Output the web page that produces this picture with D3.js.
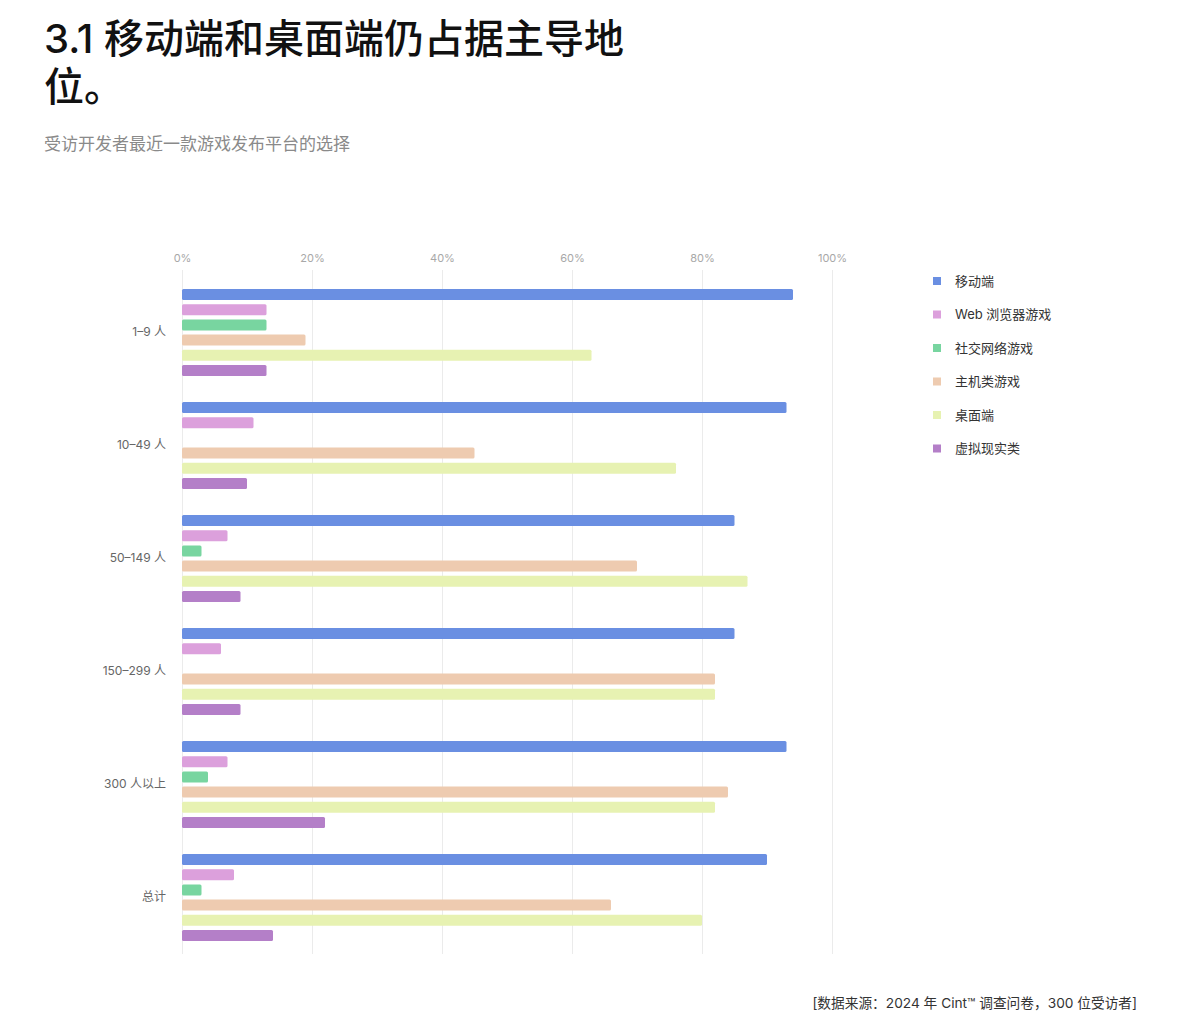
<!DOCTYPE html>
<html>
<head>
<meta charset="utf-8">
<script src="https://cdn.jsdelivr.net/npm/d3@7"></script>
<style>
  body { margin: 0; background: #fff; }
  svg text { font-family: "Inter", "Noto Sans CJK SC", sans-serif; }
</style>
</head>
<body>
<svg id="chart"></svg>
<script>
// Company size groups (y categories)
const groups = ['1–9 人', '10–49 人', '50–149 人', '150–299 人', '300 人以上', '总计'];

// Platform series, in legend order
const series = ['移动端', 'Web 浏览器游戏', '社交网络游戏', '主机类游戏', '桌面端', '虚拟现实类'];
const colors = ['#6a8fe2', '#dca0dc', '#78d5a0', '#eecbb0', '#e7f2b2', '#b47fc8'];

// Percent values per series, one entry per group
const mobile  = [94, 93, 85, 85, 93, 90];
const web     = [13, 11, 7, 6, 7, 8];
const social  = [13, 0, 3, 0, 4, 3];
const console_ = [19, 45, 70, 82, 84, 66];
const desktop = [63, 76, 87, 82, 82, 80];
const vr      = [13, 10, 9, 9, 22, 14];

const xTicks = [0, 20, 40, 60, 80, 100];

const seriesValues = [mobile, web, social, console_, desktop, vr];

// Flatten into rows for binding
const rows = [];
groups.forEach((g, gi) => {
    series.forEach((s, si) => {
        rows.push({group: g, series: s, value: seriesValues[si][gi], color: colors[si]});
    });
});

const width = 1200, height = 1031;
const margin = {top: 276, left: 182, right: 368, bottom: 77};
const innerW = width - margin.left - margin.right;
const innerH = height - margin.top - margin.bottom;

const svg = d3.select('#chart')
    .attr('width', width)
    .attr('height', height);

// Title (wrapped by hand, as in the original)
const title = svg.append('text')
    .attr('x', 44)
    .attr('y', 53)
    .style('font-size', '40px')
    .style('font-weight', 500)
    .attr('fill', '#111');
title.append('tspan').attr('x', 44).attr('dy', 0).text('3.1 移动端和桌面端仍占据主导地');
title.append('tspan').attr('x', 44).attr('dy', 48).text('位。');

svg.append('text')
    .attr('x', 44)
    .attr('y', 150)
    .style('font-size', '17px')
    .attr('fill', '#8a8a8a')
    .text('受访开发者最近一款游戏发布平台的选择');

const chart = svg.append('g')
    .attr('transform', `translate(${margin.left},${margin.top})`);

// Scales
const xScale = d3.scaleLinear()
    .domain([0, 100])
    .range([0, innerW]);

const yScale = d3.scaleBand()
    .domain(groups)
    .range([0, innerH])
    .paddingInner(0.2)
    .paddingOuter(0.1);

const ySub = d3.scaleBand()
    .domain(series)
    .range([0, yScale.bandwidth()])
    .paddingInner(0.276)
    .paddingOuter(0.11);

// Grid + top axis
const xAxis = d3.axisTop(xScale)
    .tickValues(xTicks)
    .tickFormat(d => d + '%')
    .tickSize(-(innerH + 6));

const xAxisG = chart.append('g')
    .attr('class', 'axis x-axis')
    .attr('transform', 'translate(0,-6)')
    .call(xAxis);
xAxisG.select('.domain').remove();
xAxisG.selectAll('.tick line').attr('stroke', '#ebebeb');
xAxisG.selectAll('.tick text')
    .attr('y', -8)
    .attr('fill', '#a8a8a8')
    .style('font-size', '11px');

// Y axis labels
const yAxis = d3.axisLeft(yScale).tickSize(0).tickPadding(16);
const yAxisG = chart.append('g')
    .attr('class', 'axis y-axis')
    .call(yAxis);
yAxisG.select('.domain').remove();
yAxisG.selectAll('.tick text')
    .attr('fill', '#666')
    .style('font-size', '12px');

// Bars
chart.selectAll('.bar')
    .data(rows)
    .join('rect')
    .attr('class', 'bar')
    .attr('x', xScale(0))
    .attr('y', d => yScale(d.group) + ySub(d.series))
    .attr('width', d => xScale(d.value) - xScale(0))
    .attr('height', ySub.bandwidth())
    .attr('rx', 1.5)
    .attr('fill', d => d.color);

// Legend
const legend = svg.append('g')
    .attr('transform', 'translate(933,281)');
const items = legend.selectAll('.legend-item')
    .data(series)
    .join('g')
    .attr('class', 'legend-item')
    .attr('transform', (d, i) => `translate(0,${i * 33.5})`);
items.append('rect')
    .attr('x', 0)
    .attr('y', -4)
    .attr('width', 8)
    .attr('height', 8)
    .attr('fill', (d, i) => colors[i]);
items.append('text')
    .attr('x', 22)
    .attr('dy', '0.35em')
    .attr('fill', '#333')
    .style('font-size', '13px')
    .text(d => d);

// Source note
svg.append('text')
    .attr('x', 1137)
    .attr('y', 1008)
    .attr('text-anchor', 'end')
    .attr('fill', '#333')
    .style('font-size', '13.7px')
    .text('[数据来源：2024 年 Cint™ 调查问卷，300 位受访者]');
</script>
</body>
</html>
